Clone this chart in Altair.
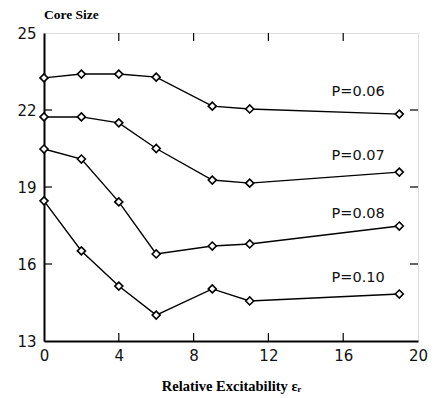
import altair as alt
import pandas as pd

# data
x_vals = [0, 2, 4, 6, 9, 11, 19]
p006 = [23.25, 23.40, 23.40, 23.28, 22.15, 22.04, 21.84]
p007 = [21.73, 21.73, 21.50, 20.50, 19.27, 19.15, 19.58]
p008 = [20.48, 20.09, 18.42, 16.39, 16.70, 16.78, 17.48]
p010 = [18.46, 16.51, 15.14, 14.01, 15.03, 14.56, 14.83]
series_names = ["P=0.06", "P=0.07", "P=0.08", "P=0.10"]
label_x = [16.8, 16.8, 16.8, 16.8]
label_y = [22.7, 20.2, 17.95, 15.45]
x_ticks = [0, 4, 8, 12, 16, 20]
y_ticks = [13, 16, 19, 22, 25]
inner_x_ticks = [4, 8, 12, 16]
inner_y_ticks = [16, 19, 22]

rows = []
for name, ys in zip(series_names, [p006, p007, p008, p010]):
    for xv, yv in zip(x_vals, ys):
        rows.append({"s": name, "x": xv, "y": yv})
df = pd.DataFrame(rows)
lab = pd.DataFrame({"s": series_names, "x": label_x, "y": label_y})
tx = pd.DataFrame({"x": inner_x_ticks})
ty = pd.DataFrame({"y": inner_y_ticks})

W, H = 374, 308
TICK = 8
xs = alt.Scale(domain=[0, 20], nice=False, zero=False)
ys_ = alt.Scale(domain=[13, 25], nice=False, zero=False)
SANS = "DejaVu Sans"
SERIF = "Liberation Serif"
xaxis = alt.Axis(values=x_ticks, ticks=False, domainColor="black", domainWidth=2,
                 labelFont=SANS, labelFontSize=15, labelColor="#111", labelPadding=7,
                 grid=False, title="Relative Excitability \u03b5\u1d63",
                 titleFont=SERIF, titleFontSize=14.5, titleFontWeight="bold",
                 titleColor="black", titlePadding=16, labelFlush=False)
yaxis = alt.Axis(values=y_ticks, ticks=False, domainColor="black", domainWidth=2,
                 labelFont=SANS, labelFontSize=15, labelColor="#111", labelPadding=8,
                 grid=False, title=None, labelFlush=False)


def X(f):
    return alt.X(f"{f}:Q", scale=xs, axis=xaxis)


def Y(f):
    return alt.Y(f"{f}:Q", scale=ys_, axis=yaxis)


base = alt.Chart(df)
lines = base.mark_line(color="black", strokeWidth=1.4).encode(
    x=X("x"), y=Y("y"), detail="s:N")
pts = base.mark_point(shape="diamond", filled=True, fill="white", stroke="black",
                      strokeWidth=1.6, size=64, opacity=1).encode(
    x=X("x"), y=Y("y"), detail="s:N")
texts = alt.Chart(lab).mark_text(font=SANS, fontSize=14.5, color="#111").encode(
    x=X("x"), y=Y("y"), text="s:N")
left_t = alt.Chart(ty).mark_rule(color="black", strokeWidth=1.2).encode(
    y=Y("y"), x=alt.value(0), x2=alt.value(TICK))
right_t = alt.Chart(ty).mark_rule(color="black", strokeWidth=1.2).encode(
    y=Y("y"), x=alt.value(W - TICK), x2=alt.value(W))
top_t = alt.Chart(tx).mark_rule(color="black", strokeWidth=1.2).encode(
    x=X("x"), y=alt.value(0), y2=alt.value(TICK))
bot_t = alt.Chart(tx).mark_rule(color="black", strokeWidth=1.2).encode(
    x=X("x"), y=alt.value(H - TICK), y2=alt.value(H))

chart = alt.layer(left_t, right_t, top_t, bot_t, lines, pts, texts).properties(
    width=W, height=H,
    title=alt.TitleParams("Core Size", anchor="start", frame="group", font=SERIF,
                          fontSize=13.5, fontWeight="bold", color="black", offset=5),
    padding={"left": 36, "top": 25, "right": 12, "bottom": 57},
    autosize=alt.AutoSizeParams(type="none"),
).configure_view(stroke="black", strokeWidth=1.5).configure(background="white")

chart.save("out.html", embed_options={"renderer": "svg", "actions": False})
